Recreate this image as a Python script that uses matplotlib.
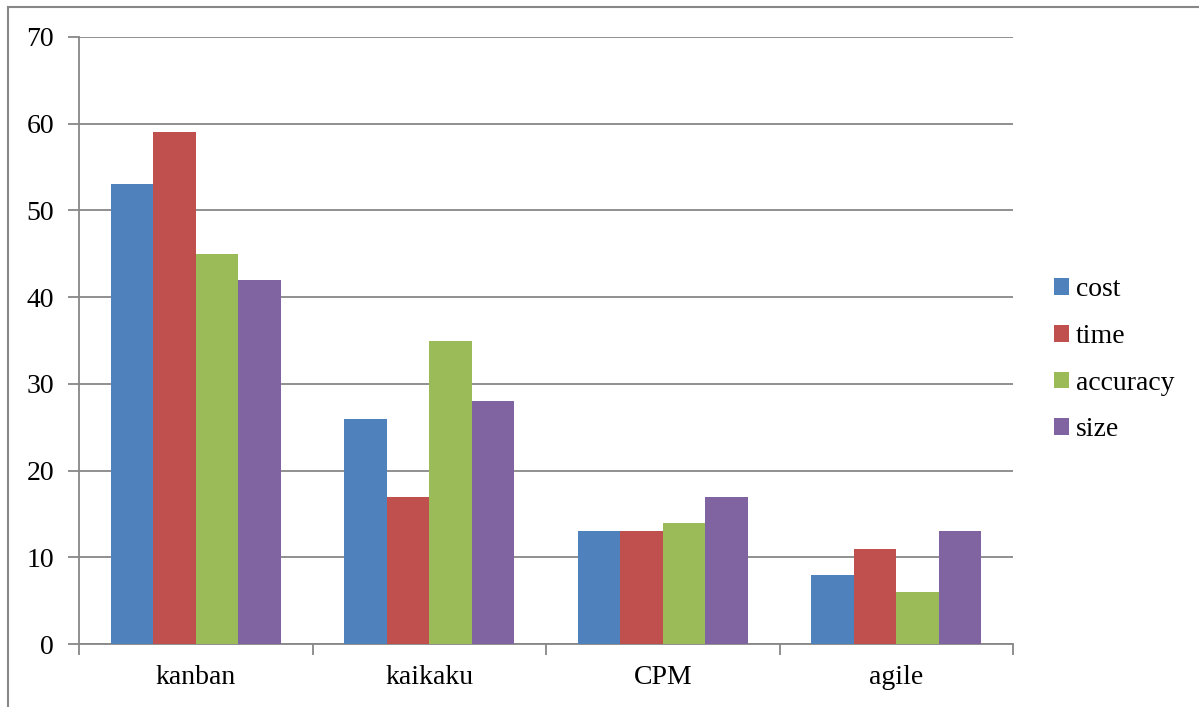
import numpy as np
import matplotlib.pyplot as plt
from matplotlib.lines import Line2D

categories = ['kanban', 'kaikaku', 'CPM', 'agile']
series = ['cost', 'time', 'accuracy', 'size']
cost = [53, 26, 13, 8]
time = [59, 17, 13, 11]
accuracy = [45, 35, 14, 6]
size = [42, 28, 17, 13]
values = [cost, time, accuracy, size]
colors = ['#4F81BD', '#C0504D', '#9BBB59', '#8064A2']

plt.rcParams['font.family'] = ['Liberation Serif', 'DejaVu Serif']

fig = plt.figure(figsize=(11.99, 7.07), dpi=100)
ax = fig.add_axes([79/1199, 63/707, (1013-79)/1199, (644-37)/707])

x = np.arange(len(categories))
w = 1 / 5.5
for i, (name, vals) in enumerate(zip(series, values)):
    ax.bar(x + (i - 1.5) * w, vals, w, color=colors[i], label=name, zorder=3)

grey = '#878787'
ax.set_xlim(-0.5, len(categories) - 0.5)
ax.set_ylim(0, 70)
ax.set_yticks(range(0, 71, 10))
ax.yaxis.grid(True, color=grey, linewidth=1.3, zorder=0)
ax.set_xticks(np.arange(-0.5, len(categories), 1), minor=False)
ax.set_xticklabels([])
ax.set_xticks(x, minor=True)
ax.set_xticklabels(categories, minor=True)
ax.tick_params(axis='x', which='major', direction='out', length=8, color=grey, width=1.3)
ax.tick_params(axis='x', which='minor', length=0, pad=15, labelsize=20)
ax.tick_params(axis='y', direction='out', length=8, color=grey, width=1.3, pad=10, labelsize=20)
for s in ['top', 'right']:
    ax.spines[s].set_visible(False)
for s in ['left', 'bottom']:
    ax.spines[s].set_color(grey)
    ax.spines[s].set_linewidth(1.3)

# outer frame (left and top edges)
fig.add_artist(Line2D([8/1199, 8/1199], [0, 1 - 7/707], color=grey, linewidth=1.5))
fig.add_artist(Line2D([8/1199, 1], [1 - 7/707, 1 - 7/707], color=grey, linewidth=1.5))

leg = ax.legend(loc='center left', bbox_to_anchor=(1029/1199, 1 - 360/707),
                bbox_transform=fig.transFigure, frameon=False, fontsize=20,
                handlelength=0.55, handleheight=0.55, handletextpad=0.25, labelspacing=0.78)

fig.savefig('out.png', dpi=100)
